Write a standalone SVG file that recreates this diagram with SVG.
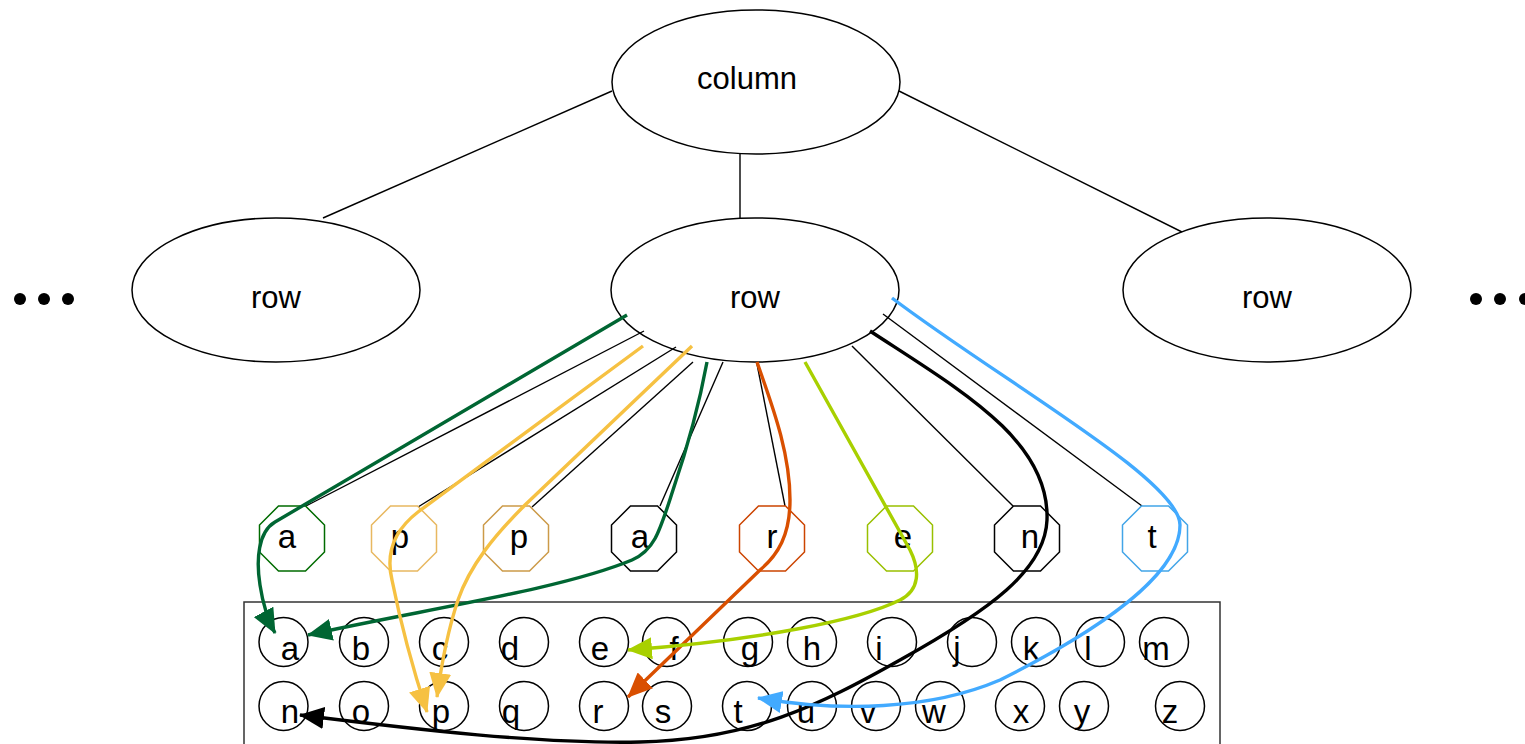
<svg xmlns="http://www.w3.org/2000/svg" xmlns:xlink="http://www.w3.org/1999/xlink" width="1525" height="744" viewBox="0 0 1525 744">
  <style>
    text { font-family: "Liberation Sans", Arial, sans-serif; fill: #000; text-anchor: middle; }
    .big { font-size: 31px; }
    .let { font-size: 33px; }
    .ell { fill: #fff; stroke: #000; stroke-width: 1.5; }
    .cir { fill: none; stroke: #000; stroke-width: 1.5; }
    .oct { fill: #fff; stroke-width: 1.5; }
    .thin { fill: none; stroke: #000; stroke-width: 1.4; }
    .arc { fill: none; stroke-width: 3.4; stroke-linecap: butt; }
  </style>
  <defs>
    <polygon id="oct" points="-13.5,-32.5 13.5,-32.5 32.5,-13.5 32.5,13.5 13.5,32.5 -13.5,32.5 -32.5,13.5 -32.5,-13.5"/>
    <marker id="mGreen" viewBox="0 0 25 22" refX="24" refY="11" markerWidth="25" markerHeight="22" markerUnits="userSpaceOnUse" orient="auto"><path d="M0,0 L25,11 L0,22 z" fill="#006633"/></marker>
    <marker id="mYellow" viewBox="0 0 25 22" refX="24" refY="11" markerWidth="25" markerHeight="22" markerUnits="userSpaceOnUse" orient="auto"><path d="M0,0 L25,11 L0,22 z" fill="#F6C142"/></marker>
    <marker id="mOrange" viewBox="0 0 25 22" refX="24" refY="11" markerWidth="25" markerHeight="22" markerUnits="userSpaceOnUse" orient="auto"><path d="M0,0 L25,11 L0,22 z" fill="#D94F00"/></marker>
    <marker id="mLime" viewBox="0 0 25 22" refX="24" refY="11" markerWidth="25" markerHeight="22" markerUnits="userSpaceOnUse" orient="auto"><path d="M0,0 L25,11 L0,22 z" fill="#A8D000"/></marker>
    <marker id="mBlack" viewBox="0 0 25 22" refX="24" refY="11" markerWidth="25" markerHeight="22" markerUnits="userSpaceOnUse" orient="auto"><path d="M0,0 L25,11 L0,22 z" fill="#000"/></marker>
    <marker id="mBlue" viewBox="0 0 25 22" refX="24" refY="11" markerWidth="25" markerHeight="22" markerUnits="userSpaceOnUse" orient="auto"><path d="M0,0 L25,11 L0,22 z" fill="#42AAFF"/></marker>
  </defs>

  <rect width="1525" height="744" fill="#fff"/>

  <!-- tree edges -->
  <g id="tree-edges" class="thin">
    <line x1="612" y1="91" x2="323" y2="218"/>
    <line x1="740" y1="154" x2="740" y2="218"/>
    <line x1="899" y1="91" x2="1188" y2="235"/>
  </g>

  <!-- ellipses -->
  <g id="column"><ellipse class="ell" cx="756" cy="82" rx="144" ry="72"/><text class="big" x="747" y="89">column</text></g>
  <g id="row-left"><ellipse class="ell" cx="276" cy="290" rx="144" ry="72"/><text class="big" x="276" y="308">row</text></g>
  <g id="row-mid"><ellipse class="ell" cx="755" cy="290" rx="144" ry="72"/><text class="big" x="755" y="308">row</text></g>
  <g id="row-right"><ellipse class="ell" cx="1267" cy="290" rx="144" ry="72"/><text class="big" x="1267" y="308">row</text></g>

  <!-- ellipsis dots -->
  <g id="dots-left" fill="#000"><circle cx="20" cy="299" r="6"/><circle cx="44" cy="299" r="6"/><circle cx="68" cy="299" r="6"/></g>
  <g id="dots-right" fill="#000"><circle cx="1476" cy="299" r="6"/><circle cx="1500" cy="299" r="6"/><circle cx="1525" cy="299" r="6"/></g>

  <!-- row to cell links -->
  <g id="cell-links" class="thin">
    <line x1="644" y1="331" x2="306" y2="506"/>
    <line x1="676" y1="347" x2="418" y2="507"/>
    <line x1="693" y1="362" x2="532" y2="507"/>
    <line x1="723" y1="362" x2="660" y2="506"/>
    <line x1="757" y1="364" x2="785" y2="506"/>
    <line x1="852" y1="346" x2="1013" y2="506"/>
    <line x1="883" y1="314" x2="1142" y2="506"/>
  </g>

  <!-- octagon cells -->
  <g id="cell-a1"><use href="#oct" x="292" y="538.5" class="oct" stroke="#006B00"/><text class="let" x="287" y="548">a</text></g>
  <g id="cell-p1"><use href="#oct" x="404" y="538.5" class="oct" stroke="#E8B860"/><text class="let" x="400" y="548">p</text></g>
  <g id="cell-p2"><use href="#oct" x="516" y="538.5" class="oct" stroke="#CC9A48"/><text class="let" x="519" y="548">p</text></g>
  <g id="cell-a2"><use href="#oct" x="644" y="538.5" class="oct" stroke="#000"/><text class="let" x="640" y="548">a</text></g>
  <g id="cell-r"><use href="#oct" x="772" y="538.5" class="oct" stroke="#CC4400"/><text class="let" x="772" y="548">r</text></g>
  <g id="cell-e"><use href="#oct" x="900" y="538.5" class="oct" stroke="#99C000"/><text class="let" x="903" y="548">e</text></g>
  <g id="cell-n"><use href="#oct" x="1027" y="538.5" class="oct" stroke="#000"/><text class="let" x="1030" y="548">n</text></g>
  <g id="cell-t"><use href="#oct" x="1155" y="538.5" class="oct" stroke="#42A5E8"/><text class="let" x="1152" y="548">t</text></g>

  <!-- alphabet box -->
  <g id="alphabet">
    <rect x="244" y="602" width="976" height="150" fill="#fff" stroke="#333" stroke-width="1.5"/>
    <g class="cir">
      <circle cx="283.5" cy="642" r="24.5"/><circle cx="364" cy="642" r="24.5"/><circle cx="444" cy="642" r="24.5"/><circle cx="524" cy="642" r="24.5"/><circle cx="604" cy="642" r="24.5"/><circle cx="667" cy="642" r="24.5"/><circle cx="748" cy="642" r="24.5"/><circle cx="812" cy="642" r="24.5"/><circle cx="892" cy="642" r="24.5"/><circle cx="972" cy="642" r="24.5"/><circle cx="1036" cy="642" r="24.5"/><circle cx="1100" cy="642" r="24.5"/><circle cx="1164" cy="642" r="24.5"/>
      <circle cx="283.5" cy="706" r="24.5"/><circle cx="364" cy="706" r="24.5"/><circle cx="444" cy="706" r="24.5"/><circle cx="524" cy="706" r="24.5"/><circle cx="604" cy="706" r="24.5"/><circle cx="667" cy="706" r="24.5"/><circle cx="747" cy="706" r="24.5"/><circle cx="812" cy="706" r="24.5"/><circle cx="876" cy="706" r="24.5"/><circle cx="940" cy="706" r="24.5"/><circle cx="1020" cy="706" r="24.5"/><circle cx="1084" cy="706" r="24.5"/><circle cx="1180" cy="706" r="24.5"/>
    </g>
    <g>
      <text class="let" x="290" y="660">a</text><text class="let" x="361" y="660">b</text><text class="let" x="440" y="660">c</text><text class="let" x="510" y="660">d</text><text class="let" x="600" y="660">e</text><text class="let" x="674" y="660">f</text><text class="let" x="750" y="660">g</text><text class="let" x="812" y="660">h</text><text class="let" x="879" y="660">i</text><text class="let" x="957" y="660">j</text><text class="let" x="1031" y="660">k</text><text class="let" x="1088" y="660">l</text><text class="let" x="1156" y="660">m</text>
      <text class="let" x="290" y="723">n</text><text class="let" x="361" y="723">o</text><text class="let" x="441" y="723">p</text><text class="let" x="511" y="723">q</text><text class="let" x="598" y="723">r</text><text class="let" x="663" y="723">s</text><text class="let" x="738" y="723">t</text><text class="let" x="806" y="723">u</text><text class="let" x="868" y="723">v</text><text class="let" x="934" y="723">w</text><text class="let" x="1021" y="723">x</text><text class="let" x="1082" y="723">y</text><text class="let" x="1170" y="723">z</text>
    </g>
  </g>

  <!-- coloured lookup arrows -->
  <g id="connectors">
    <path class="arc" stroke="#006633" marker-end="url(#mGreen)" d="M627,315 L275,522 C258,532 256,560 260,585 C263,605 268,620 275,633"/>
    <path class="arc" stroke="#006633" marker-end="url(#mGreen)" d="M707,362 C700,400 690,440 673,490 C660,530 655,550 632,560 C560,590 420,610 308,635"/>
    <path class="arc" stroke="#F6C142" marker-end="url(#mYellow)" d="M643,346 L418,512 C392,532 386,555 392,580 C398,610 410,660 427,712"/>
    <path class="arc" stroke="#F6C142" marker-end="url(#mYellow)" d="M692,346 L525,505 C495,535 470,565 458,600 C448,630 442,660 437,697"/>
    <path class="arc" stroke="#D94F00" marker-end="url(#mOrange)" d="M757,362 C770,400 790,450 790,500 C790,535 778,555 760,570 L628,697"/>
    <path class="arc" stroke="#A8D000" marker-end="url(#mLime)" d="M805,362 L910,550 C920,570 920,590 900,600 C860,620 760,640 628,650"/>
    <path class="arc" stroke="#000" marker-end="url(#mBlack)" d="M870,331 C960,390 1050,440 1047,520 C1045,570 990,610 900,660 C820,705 750,740 640,742 C540,744 420,730 300,715"/>
    <path class="arc" stroke="#42AAFF" marker-end="url(#mBlue)" d="M892,298 C1000,380 1180,480 1180,525 C1180,580 1080,640 1000,680 C930,710 840,712 758,698"/>
  </g>
</svg>
